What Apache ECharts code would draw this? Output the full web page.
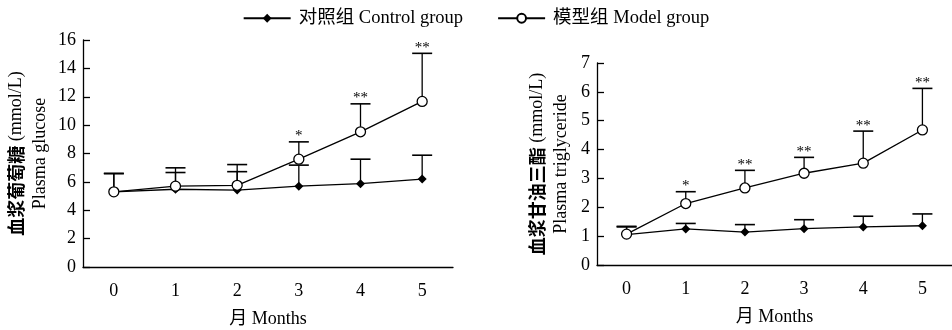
<!DOCTYPE html>
<html><head><meta charset="utf-8">
<script src="https://cdn.jsdelivr.net/npm/echarts@6/dist/echarts.min.js"></script>
<style>html,body{margin:0;padding:0;background:#fff}#c{width:952px;height:330px}</style>
</head><body><div id="c"></div>
<script>
const months = ['0', '1', '2', '3', '4', '5'];
const glucoseControl = [5.3, 5.48, 5.42, 5.7, 5.87, 6.2];
const glucoseControlUpper = [6.58, 6.99, 7.22, 7.18, 7.6, 7.88];
const glucoseModel = [5.3, 5.7, 5.76, 7.6, 9.53, 11.67];
const glucoseModelUpper = [6.6, 6.66, 6.72, 8.82, 11.5, 15.06];
const glucoseStars = ['', '', '', '*', '**', '**'];
const tgControl = [1.05, 1.25, 1.14, 1.26, 1.32, 1.36];
const tgControlUpper = [1.34, 1.44, 1.40, 1.57, 1.69, 1.77];
const tgModel = [1.07, 2.13, 2.67, 3.18, 3.53, 4.68];
const tgModelUpper = [1.32, 2.54, 3.28, 3.73, 4.64, 6.12];
const tgStars = ['', '*', '**', '**', '**', '**'];
const controlName = '对照组 Control group';
const modelName = '模型组 Model group';
const xName = '月 Months';
const yNameLeft = '{cn|血浆葡萄糖} (mmol/L)\nPlasma glucose';
const yNameRight = '{cn|血浆甘油三酯} (mmol/L)\nPlasma triglyceride';

const SERIF = "'Liberation Serif','Times New Roman','Noto Sans CJK SC',serif";
const chart = echarts.init(document.getElementById('c'));

function errorSeries(idx, means, uppers, stars) {
  return {
    type: 'custom', xAxisIndex: idx, yAxisIndex: idx, z: 1, silent: true,
    data: means.map((m, i) => [i, m, uppers[i]]),
    renderItem: (params, api) => {
      const i = params.dataIndex;
      const p0 = api.coord([api.value(0), api.value(1)]);
      const p1 = api.coord([api.value(0), api.value(2)]);
      const children = [
        {type: 'line', shape: {x1: p0[0], y1: p0[1], x2: p1[0], y2: p1[1]}, style: {stroke: '#000', lineWidth: 1.3}},
        {type: 'line', shape: {x1: p1[0] - 10, y1: p1[1], x2: p1[0] + 10, y2: p1[1]}, style: {stroke: '#000', lineWidth: 1.6}}
      ];
      if (stars && stars[i]) {
        children.push({type: 'text', style: {text: stars[i], x: p1[0], y: p1[1] + 2, align: 'center', verticalAlign: 'bottom', fontSize: 15, fontFamily: SERIF, fill: '#000'}});
      }
      return {type: 'group', children};
    }
  };
}
function lineSeries(idx, name, values, isModel) {
  return {
    type: 'line', name, xAxisIndex: idx, yAxisIndex: idx, z: 3, data: values,
    symbol: isModel ? 'circle' : 'diamond', symbolSize: isModel ? 10 : 9,
    lineStyle: {color: '#000', width: 1.3},
    itemStyle: isModel ? {color: '#fff', borderColor: '#000', borderWidth: 1.3} : {color: '#000'},
    emphasis: {disabled: true}
  };
}
function xAxis(gi) {
  return {
    type: 'category', gridIndex: gi, data: months, boundaryGap: true,
    axisLine: {lineStyle: {color: '#000', width: 1.3}},
    axisTick: {inside: true, length: 7, lineStyle: {color: '#000', width: 1.3}},
    axisLabel: {color: '#000', fontSize: 18, fontFamily: SERIF, margin: 15},
    name: xName, nameLocation: 'middle', nameGap: 43,
    nameTextStyle: {color: '#000', fontSize: 18, fontFamily: SERIF}
  };
}
function yAxis(gi, max, name, gap) {
  return {
    type: 'value', gridIndex: gi, min: 0, max, interval: gi === 0 ? 2 : 1,
    axisLine: {show: true, lineStyle: {color: '#000', width: 1.3}},
    axisTick: {show: true, inside: true, length: 7, lineStyle: {color: '#000', width: 1.3}},
    axisLabel: {color: '#000', fontSize: 18, fontFamily: SERIF, margin: 7},
    splitLine: {show: false},
    name, nameLocation: 'middle', nameGap: gap, nameRotate: 90,
    nameTextStyle: {color: '#000', fontSize: 18, fontFamily: SERIF, lineHeight: 24,
      rich: {cn: {fontFamily: "'Noto Sans CJK SC'", fontWeight: 'bold', fontSize: 18, color: '#000'}}}
  };
}
chart.setOption({
  animation: false,
  backgroundColor: '#fff',
  legend: {
    top: 4, left: 'center', itemWidth: 47, itemHeight: 11, itemGap: 34, selectedMode: false,
    data: [controlName, modelName],
    textStyle: {color: '#000', fontSize: 18.5, fontFamily: SERIF, padding: [0, 0, 0, 3]}
  },
  grid: [
    {left: 83, top: 40, width: 370, height: 227, containLabel: false, outerBoundsMode: 'none'},
    {left: 597, top: 63, width: 355, height: 202, containLabel: false, outerBoundsMode: 'none'}
  ],
  xAxis: [xAxis(0), xAxis(1)],
  yAxis: [yAxis(0, 16, yNameLeft, 31), yAxis(1, 7, yNameRight, 24)],
  series: [
    errorSeries(0, glucoseControl, glucoseControlUpper, null),
    errorSeries(0, glucoseModel, glucoseModelUpper, glucoseStars),
    errorSeries(1, tgControl, tgControlUpper, null),
    errorSeries(1, tgModel, tgModelUpper, tgStars),
    lineSeries(0, controlName, glucoseControl, false),
    lineSeries(0, modelName, glucoseModel, true),
    lineSeries(1, controlName, tgControl, false),
    lineSeries(1, modelName, tgModel, true)
  ]
});
</script></body></html>
